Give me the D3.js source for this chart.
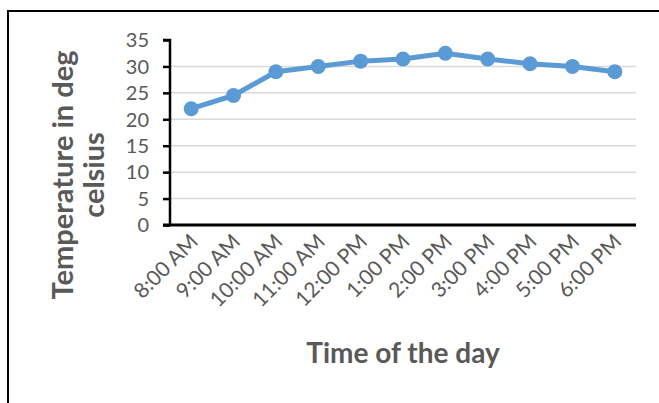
<!DOCTYPE html>
<html><head><meta charset="utf-8">
<script src="https://cdn.jsdelivr.net/npm/d3@7"></script>
<style>html,body{margin:0;padding:0;background:#fff;}svg{display:block;}</style>
</head><body>
<svg id="c" width="659" height="403"></svg>
<script>
const categories = ["8:00 AM","9:00 AM","10:00 AM","11:00 AM","12:00 PM","1:00 PM","2:00 PM","3:00 PM","4:00 PM","5:00 PM","6:00 PM"];
const temperatures = [22, 24.5, 29, 30, 31, 31.4, 32.5, 31.4, 30.5, 30, 29];
const yTicks = [0,5,10,15,20,25,30,35];
const yTitleLines = ["Temperature in deg","celsius"];
const xTitle = "Time of the day";

const svg = d3.select("#c");
const font = "Lato, 'Open Sans', sans-serif";
const grey = "#595959";
const m = {left:170, right:636, top:40, bottom:225};

// outer frame
svg.append("path").attr("d","M8,410V11H665").attr("fill","none").attr("stroke","#000").attr("stroke-width",2);

const x = d3.scaleBand().domain(categories).range([m.left, m.right]);
const y = d3.scaleLinear().domain([0,35]).range([m.bottom, m.top]);

// gridlines
svg.append("g").selectAll("line").data(yTicks.filter(t=>t>0 && t<35)).join("line")
  .attr("x1",m.left).attr("x2",m.right).attr("y1",d=>y(d)).attr("y2",d=>y(d))
  .attr("stroke","#d9d9d9").attr("stroke-width",1.5);

// y axis
const ya = svg.append("g").attr("transform",`translate(${m.left},0)`)
  .call(d3.axisLeft(y).tickValues(yTicks).tickSize(7).tickPadding(14));
ya.select(".domain").attr("stroke","#000").attr("stroke-width",2.5).attr("d",`M-7,${m.top}H0V${m.bottom}`);
ya.selectAll(".tick line").attr("stroke","#000").attr("stroke-width",2.5);
ya.selectAll(".tick text").attr("fill",grey).attr("font-family",font).attr("font-size",20).attr("dy","0.34em");

// x axis
const xa = svg.append("g").attr("transform",`translate(0,${m.bottom})`)
  .call(d3.axisBottom(x).tickSize(0).tickPadding(0));
xa.select(".domain").attr("stroke","#000").attr("stroke-width",3).attr("d",`M${m.left-7},0H${m.right}`);
xa.selectAll(".tick text").attr("fill",grey).attr("font-family",font).attr("font-size",21)
  .attr("text-anchor","end").attr("dy",null)
  .attr("transform","translate(8,18) rotate(-45)");

// line
const line = d3.line().x((d,i)=>x(categories[i])+x.bandwidth()/2).y(d=>y(d));
svg.append("path").datum(temperatures).attr("d",line).attr("fill","none")
  .attr("stroke","#5b9bd5").attr("stroke-width",5).attr("stroke-linejoin","round");
svg.append("g").selectAll("circle").data(temperatures).join("circle")
  .attr("cx",(d,i)=>x(categories[i])+x.bandwidth()/2).attr("cy",d=>y(d)).attr("r",7.5)
  .attr("fill","#5b9bd5");

// titles
const yt = svg.append("text").attr("transform","translate(0,175) rotate(-90)")
  .attr("text-anchor","middle").attr("fill",grey).attr("font-family",font)
  .attr("font-weight","bold").attr("font-size",29);
yt.selectAll("tspan").data(yTitleLines).join("tspan")
  .attr("x",0).attr("y",(d,i)=> i===0 ? 73 : 104).text(d=>d);

svg.append("text").attr("x",403).attr("y",363).attr("text-anchor","middle")
  .attr("fill",grey).attr("font-family",font).attr("font-weight","bold").attr("font-size",28)
  .text(xTitle);
</script>
</body></html>
